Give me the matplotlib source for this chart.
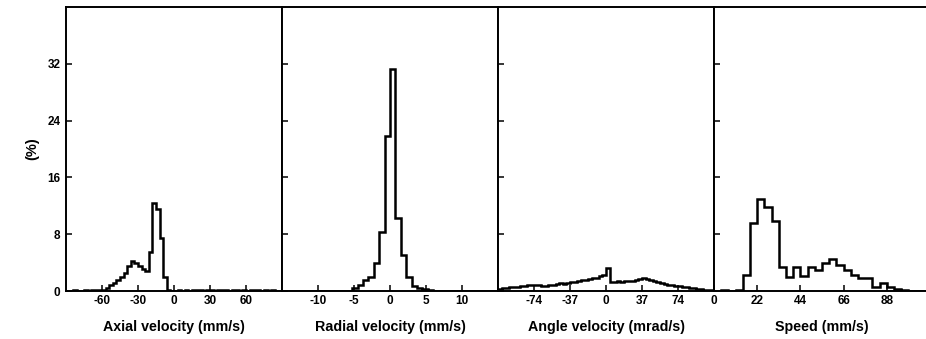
import numpy as np
import matplotlib
matplotlib.use('Agg')
import matplotlib.pyplot as plt

plt.rcParams['font.family'] = ['Liberation Sans', 'DejaVu Sans']
plt.rcParams['font.weight'] = 'bold'
plt.rcParams['axes.unicode_minus'] = False

# bins for each histogram
axial_edges = np.arange(-90, 91, 3)
radial_edges = np.arange(-15, 15.01, 0.75)
angle_edges = np.arange(-111, 111.01, 3.7)
speed_edges = np.linspace(0, 110, 31)

# percent per bin
axial = [0.05, 0.05, 0.1, 0.05, 0.05, 0.1, 0.05, 0.1, 0.1, 0.15,
         0.2, 0.4, 0.8, 1.1, 1.6, 2.0, 2.6, 3.5, 4.2, 3.9,
         3.5, 3.1, 2.8, 5.5, 12.4, 11.6, 7.5, 2.0, 0.1, 0.05,
         0.05, 0.1, 0.05, 0.1, 0.05, 0.1, 0.15, 0.1, 0.05, 0.1,
         0.1, 0.05, 0.1, 0.15, 0.1, 0.05, 0.1, 0.1, 0.05, 0.1,
         0.05, 0.1, 0.15, 0.1, 0.05, 0.1, 0.05, 0.1, 0.05, 0.05]

radial = [0.05, 0.05, 0.05, 0.05, 0.05, 0.05, 0.05, 0.05, 0.05, 0.05,
          0.05, 0.05, 0.05, 0.38, 0.84, 1.55, 2.0, 4.0, 8.3, 21.8,
          31.3, 10.3, 5.1, 2.0, 0.7, 0.4, 0.3, 0.2, 0.05, 0.05,
          0.05, 0.05, 0.05, 0.05, 0.05, 0.05, 0.05, 0.05, 0.05, 0.05]

angle = [0.35, 0.4, 0.45, 0.55, 0.6, 0.55, 0.65, 0.75, 0.85, 0.8,
         0.9, 0.85, 0.75, 0.7, 0.8, 0.9, 1.05, 1.1, 1.05, 1.15,
         1.25, 1.3, 1.45, 1.5, 1.6, 1.7, 1.85, 1.9, 2.1, 2.2,
         3.25, 1.3, 1.3, 1.35, 1.3, 1.4, 1.35, 1.45, 1.55, 1.75,
         1.9, 1.7, 1.5, 1.35, 1.2, 1.1, 1.0, 0.9, 0.85, 0.75,
         0.7, 0.6, 0.55, 0.45, 0.4, 0.3, 0.25, 0.2, 0.15, 0.1]

speed = [0.05, 0.1, 0.05, 0.1, 2.25, 9.6, 13.0, 11.9, 9.9, 3.4,
         2.0, 3.4, 2.1, 3.4, 3.0, 3.9, 4.45, 3.65, 3.0, 2.25,
         1.9, 1.9, 0.6, 1.1, 0.5, 0.33, 0.14, 0.05, 0.0, 0.0]

panels = [
    (axial_edges, axial, (-90, 90), [-60, -30, 0, 30, 60], 'Axial velocity (mm/s)'),
    (radial_edges, radial, (-15, 15), [-10, -5, 0, 5, 10], 'Radial velocity (mm/s)'),
    (angle_edges, angle, (-111, 111), [-74, -37, 0, 37, 74], 'Angle velocity (mrad/s)'),
    (speed_edges, speed, (0, 110), [0, 22, 44, 66, 88], 'Speed (mm/s)'),
]

W, H = 926, 339
fig = plt.figure(figsize=(W / 100, H / 100), dpi=100)

left0 = 66
pw = 216
for i, (edges, vals, xl, xt, lab) in enumerate(panels):
    ax = fig.add_axes([(left0 + i * pw) / W, 48 / H, pw / W, 284 / H])
    ax.stairs(vals, edges, color='black', lw=1.8, baseline=0)
    ax.set_xlim(*xl)
    ax.set_ylim(0, 40)
    ax.set_xticks(xt)
    ax.set_yticks([0, 8, 16, 24, 32])
    ax.tick_params(direction='in', length=4, width=1.1, labelsize=8.5, pad=3)
    ax.tick_params(axis='y', pad=4)
    for s in ax.spines.values():
        s.set_linewidth(1.4)
    ax.set_xlabel(lab, fontsize=10.3, fontweight='bold', labelpad=9)
    if i == 0:
        ax.set_ylabel('(%)', fontsize=10.5, fontweight='bold', labelpad=6)
    else:
        ax.tick_params(axis='y', labelleft=False)
    for t in ax.get_xticklabels() + ax.get_yticklabels():
        t.set_fontweight('bold')

fig.savefig('out.png', dpi=100)
